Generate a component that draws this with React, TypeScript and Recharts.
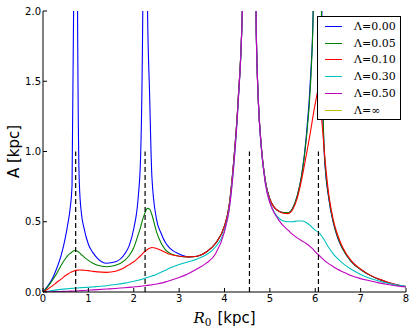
import React from 'react';
import {
  LineChart,
  Line,
  XAxis,
  YAxis,
  Legend,
  ReferenceLine,
  Label,
} from 'recharts';

// R0 grid [kpc]
const r0 = [
  0, 0.1, 0.2, 0.3, 0.4, 0.5, 0.55, 0.6, 0.64, 0.68,
  0.72, 0.76, 0.8, 0.85, 0.9, 1.0, 1.1, 1.2, 1.4, 1.6,
  1.8, 1.9, 2.0, 2.1, 2.15, 2.2, 2.25, 2.3, 2.35, 2.4,
  2.5, 2.6, 2.7, 2.8, 3.0, 3.2, 3.4, 3.6, 3.8, 4.0,
  4.1, 4.2, 4.3, 4.4, 4.55, 4.7, 4.75, 4.8, 4.9, 5.0,
  5.1, 5.2, 5.3, 5.4, 5.5, 5.6, 5.7, 5.8, 5.9, 5.95,
  6.0, 6.07, 6.15, 6.2, 6.3, 6.4, 6.5, 6.6, 6.8, 7.0,
  7.2, 7.4, 7.6, 7.8, 8.0,
];

const lam000 = [
  0, 0.04, 0.09, 0.165, 0.26, 0.4, 0.49, 0.6, 0.76, 2.2,
  8, 2.1, 0.78, 0.55, 0.46, 0.34, 0.28, 0.24, 0.205, 0.215,
  0.27, 0.33, 0.45, 0.68, 0.95, 2.05, 8, 2.1, 1.4, 0.82,
  0.52, 0.42, 0.35, 0.31, 0.27, 0.25, 0.255, 0.285, 0.345, 0.47,
  0.61, 0.92, 1.36, 2.1, 8, 1.85, 1.33, 1.08, 0.79, 0.66,
  0.6, 0.575, 0.565, 0.565, 0.595, 0.68, 0.83, 1.1, 1.55, 1.95,
  3.2, 8, 1.6, 0.98, 0.66, 0.49, 0.38, 0.31, 0.215, 0.16,
  0.12, 0.09, 0.068, 0.05, 0.037,
];

const lam005 = [
  0, 0.035, 0.08, 0.13, 0.19, 0.24, 0.26, 0.275, 0.285, 0.293,
  0.295, 0.29, 0.28, 0.265, 0.25, 0.225, 0.205, 0.19, 0.18, 0.19,
  0.225, 0.26, 0.315, 0.41, 0.46, 0.52, 0.565, 0.595, 0.59, 0.55,
  0.43, 0.35, 0.3, 0.275, 0.255, 0.25, 0.255, 0.285, 0.345, 0.47,
  0.61, 0.92, 1.36, 2.1, 8, 1.85, 1.33, 1.08, 0.79, 0.66,
  0.6, 0.575, 0.565, 0.565, 0.595, 0.68, 0.83, 1.08, 1.5, 1.9,
  2.7, 4, 1.62, 1.0, 0.67, 0.495, 0.385, 0.31, 0.215, 0.16,
  0.12, 0.09, 0.068, 0.05, 0.037,
];

const lam010 = [
  0, 0.02, 0.042, 0.068, 0.092, 0.118, 0.128, 0.138, 0.145, 0.15,
  0.154, 0.156, 0.157, 0.156, 0.155, 0.152, 0.147, 0.143, 0.14, 0.148,
  0.175, 0.195, 0.215, 0.243, 0.258, 0.275, 0.29, 0.303, 0.312, 0.317,
  0.31, 0.297, 0.282, 0.268, 0.255, 0.25, 0.255, 0.285, 0.345, 0.47,
  0.61, 0.92, 1.36, 2.1, 8, 1.85, 1.33, 1.08, 0.79, 0.66,
  0.6, 0.575, 0.56, 0.558, 0.585, 0.665, 0.8, 0.97, 1.15, 1.25,
  1.34, 1.44, 1.2, 1.0, 0.69, 0.51, 0.4, 0.32, 0.22, 0.163,
  0.122, 0.092, 0.07, 0.052, 0.038,
];

const lam030 = [
  0, 0.005, 0.01, 0.015, 0.019, 0.022, 0.023, 0.025, 0.026, 0.027,
  0.028, 0.029, 0.03, 0.031, 0.032, 0.034, 0.036, 0.039, 0.045, 0.053,
  0.063, 0.069, 0.076, 0.084, 0.088, 0.093, 0.098, 0.103, 0.108, 0.114,
  0.125, 0.14, 0.155, 0.17, 0.195, 0.215, 0.235, 0.265, 0.32, 0.44,
  0.585, 0.89, 1.34, 2.1, 8, 1.85, 1.33, 1.07, 0.78, 0.64,
  0.565, 0.525, 0.505, 0.5, 0.5, 0.505, 0.505, 0.495, 0.47, 0.455,
  0.44, 0.425, 0.395, 0.37, 0.315, 0.27, 0.235, 0.205, 0.16, 0.125,
  0.098, 0.078, 0.062, 0.05, 0.04,
];

const lam050 = [
  0, 0.001, 0.002, 0.003, 0.004, 0.005, 0.0055, 0.006, 0.0065, 0.007,
  0.0075, 0.008, 0.009, 0.01, 0.011, 0.013, 0.015, 0.017, 0.021, 0.025,
  0.03, 0.033, 0.036, 0.039, 0.041, 0.043, 0.045, 0.047, 0.049, 0.051,
  0.057, 0.063, 0.072, 0.082, 0.103, 0.13, 0.165, 0.205, 0.27, 0.43,
  0.58, 0.88, 1.34, 2.1, 8, 1.85, 1.33, 1.07, 0.77, 0.635,
  0.56, 0.51, 0.47, 0.44, 0.41, 0.385, 0.365, 0.345, 0.32, 0.305,
  0.285, 0.265, 0.24, 0.225, 0.2, 0.18, 0.16, 0.145, 0.115, 0.095,
  0.08, 0.065, 0.053, 0.043, 0.035,
];

// Lambda = infinity: nothing visible inside the plotted range
const lamInf: (number | null)[] = r0.map(() => null);

const resonances = [0.72, 2.25, 4.55, 6.07];
const xTicks = [0, 1, 2, 3, 4, 5, 6, 7, 8];
const yTicks = [0, 0.5, 1.0, 1.5, 2.0];

const series = [
  { key: 'lam000', label: 'Λ=0.00', color: '#0000ff', values: lam000 },
  { key: 'lam005', label: 'Λ=0.05', color: '#008000', values: lam005 },
  { key: 'lam010', label: 'Λ=0.10', color: '#ff0000', values: lam010 },
  { key: 'lam030', label: 'Λ=0.30', color: '#00bfbf', values: lam030 },
  { key: 'lam050', label: 'Λ=0.50', color: '#bf00bf', values: lam050 },
  { key: 'lamInf', label: 'Λ=∞', color: '#bfbf00', values: lamInf },
];

const data = r0.map((x, i) => {
  const row: any = { r0: x };
  series.forEach((s) => {
    row[s.key] = s.values[i];
  });
  return row;
});

const tickStyle = { fill: '#000', fontSize: 10, fontFamily: 'DejaVu Sans' };

function XTitle(props: any) {
  const { x, y, width } = props.viewBox;
  return (
    <text x={x + width / 2} y={y + 31} textAnchor="middle" fontSize={15} fontFamily="DejaVu Sans" fill="#000">
      <tspan fontFamily="DejaVu Serif" fontStyle="italic">R</tspan>
      <tspan fontFamily="DejaVu Serif" fontSize={10.5} dy={3}>0</tspan>
      <tspan dx={6} dy={-3}>[kpc]</tspan>
    </text>
  );
}

function YTitle(props: any) {
  const { y, height } = props.viewBox;
  const cy = y + height / 2;
  return (
    <text x={14} y={cy} transform={`rotate(-90 14 ${cy})`} textAnchor="middle" dominantBaseline="central" fontSize={15} fontFamily="DejaVu Sans" fill="#000">
      A [kpc]
    </text>
  );
}

function LegendBox() {
  return (
    <div
      style={{
        boxSizing: 'border-box',
        width: 84,
        height: 104,
        border: '1px solid #000',
        background: '#fff',
        paddingTop: 1,
      }}
    >
      {series.map((s) => (
        <div key={s.key} style={{ display: 'flex', alignItems: 'center', height: 16.8 }}>
          <span style={{ marginLeft: 7, width: 17, borderTop: `1.2px solid ${s.color}` }} />
          <span style={{ marginLeft: 12, fontFamily: 'DejaVu Serif', fontSize: 11, lineHeight: 1, color: '#000' }}>
            {s.label}
          </span>
        </div>
      ))}
    </div>
  );
}

export default function App() {
  return (
    <div style={{ position: 'absolute', left: 0, top: 0, background: '#fff' }}>
      <LineChart width={415} height={333} data={data} margin={{ top: 11, right: 9, left: 0, bottom: 0 }}>
        <XAxis
          dataKey="r0"
          type="number"
          domain={[0, 8]}
          ticks={xTicks}
          interval={0}
          allowDataOverflow
          height={41}
          tickSize={-4}
          tickMargin={7}
          stroke="#000"
          tick={tickStyle}
        >
          <Label content={XTitle} />
        </XAxis>
        <XAxis
          xAxisId="top"
          orientation="top"
          type="number"
          domain={[0, 8]}
          ticks={xTicks}
          interval={0}
          height={0}
          tickSize={-4}
          tick={false}
          stroke="#000"
        />
        <YAxis
          type="number"
          domain={[0, 2]}
          ticks={yTicks}
          interval={0}
          allowDataOverflow
          width={43}
          tickSize={-4}
          tickMargin={6}
          stroke="#000"
          tick={tickStyle}
          tickFormatter={(v: number) => v.toFixed(1)}
        >
          <Label content={YTitle} />
        </YAxis>
        <YAxis
          yAxisId="right"
          orientation="right"
          type="number"
          domain={[0, 2]}
          ticks={yTicks}
          interval={0}
          width={0}
          tickSize={-4}
          tick={false}
          stroke="#000"
        />
        {series.map((s) => (
          <Line
            key={s.key}
            type="monotone"
            dataKey={s.key}
            stroke={s.color}
            strokeWidth={1.1}
            dot={false}
            activeDot={false}
            connectNulls={false}
            isAnimationActive={false}
          />
        ))}
        {resonances.map((r) => (
          <ReferenceLine
            key={r}
            segment={[
              { x: r, y: 0 },
              { x: r, y: 1 },
            ]}
            stroke="#000"
            strokeWidth={1.2}
            strokeDasharray="5 3"
          />
        ))}
        <Legend
          layout="vertical"
          align="center"
          verticalAlign="middle"
          content={LegendBox}
          wrapperStyle={{ left: 317, top: 16, width: 84, height: 104 }}
        />
      </LineChart>
    </div>
  );
}
